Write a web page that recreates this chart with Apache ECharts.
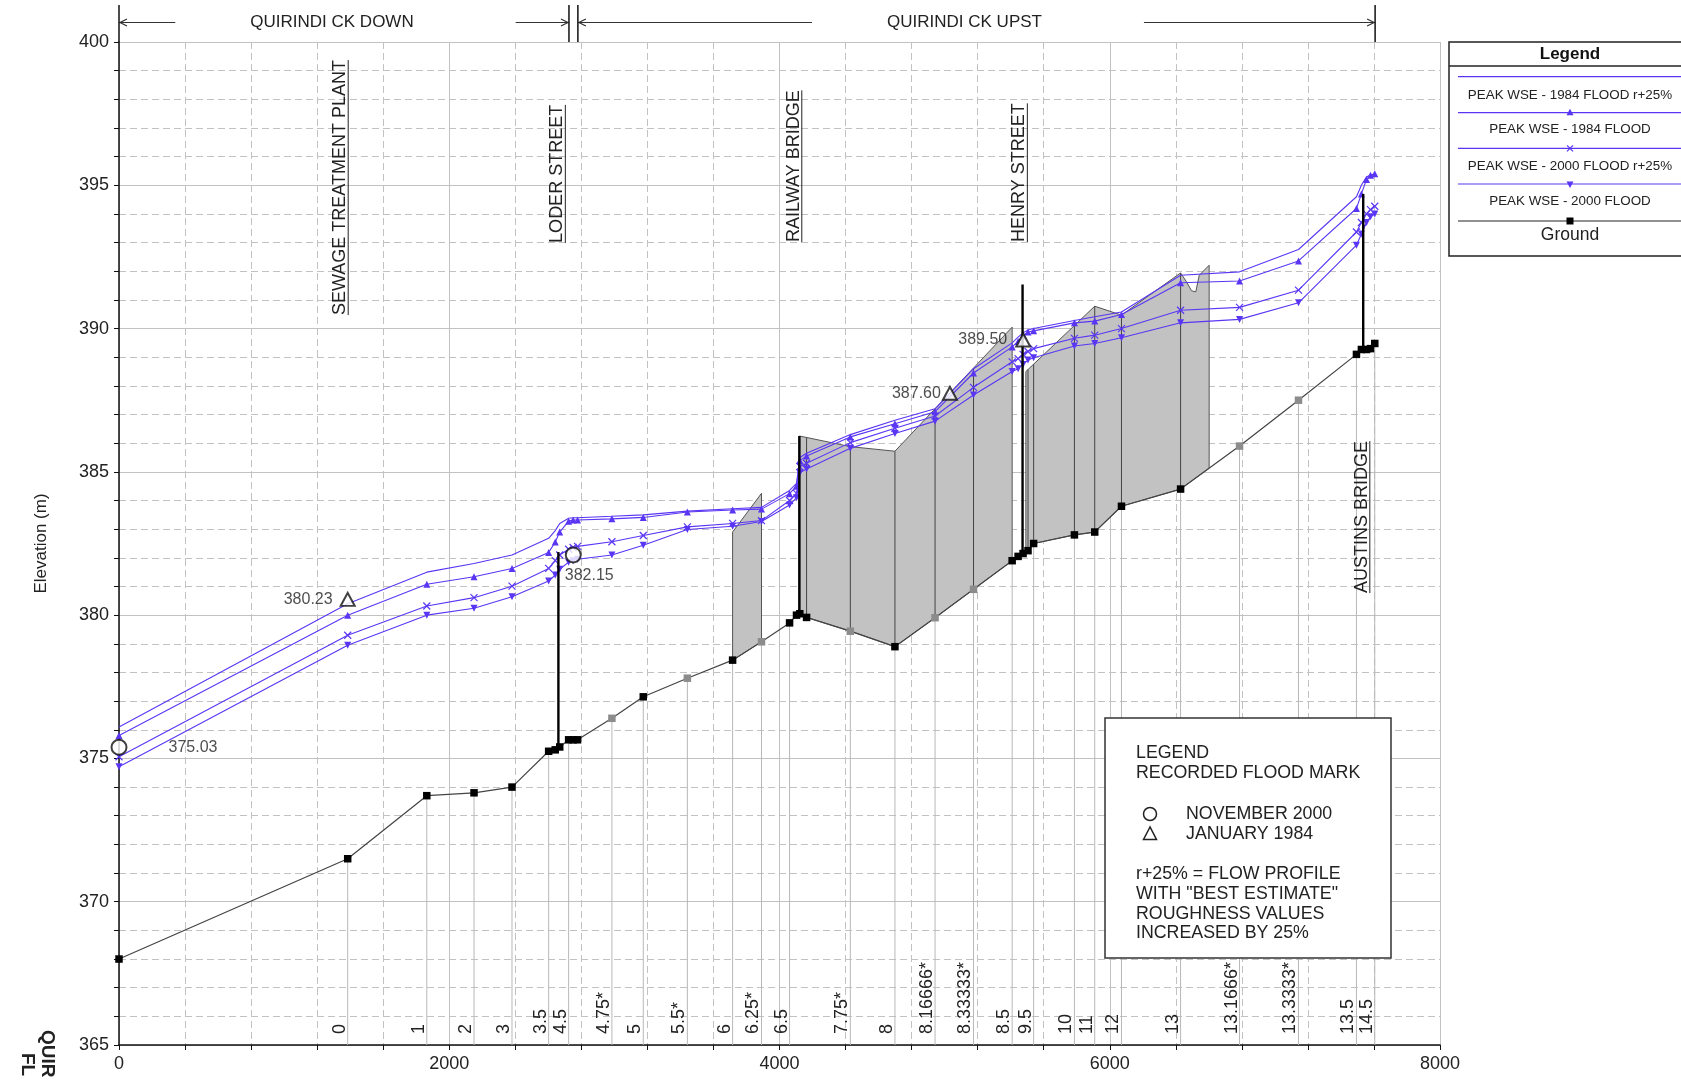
<!DOCTYPE html>
<html>
<head>
<meta charset="utf-8">
<script src="https://cdn.jsdelivr.net/npm/echarts@6/dist/echarts.min.js"></script>
<style>html,body{margin:0;padding:0;background:#fff}#c{width:1681px;height:1083px}</style>
</head>
<body>
<div id="c"></div>
<script>
// ---------------- DATA ----------------
const stationX = [0,1385,1864,2150,2380,2602,2642,2669,2723,2750,2777,2985,3175,3442,3716,3891,4061,4103,4123,4164,4429,4699,4942,5175,5409,5445,5475,5505,5539,5786,5909,6071,6429,6786,7143,7494,7524,7555,7579,7605];
const groundElev = [368.0,371.5,373.7,373.8,374.0,375.25,375.3,375.4,375.65,375.65,375.65,376.4,377.15,377.8,378.43,379.07,379.73,380.0,380.05,379.92,379.44,378.9,379.91,380.9,381.9,382.05,382.15,382.25,382.5,382.8,382.9,383.8,384.4,385.9,387.5,389.1,389.27,389.27,389.3,389.48];
const interpolatedSection = [0,0,0,0,0,0,0,0,0,0,0,1,0,1,0,1,0,0,0,0,1,0,1,1,0,0,0,0,0,0,0,0,0,1,1,0,0,0,0,0];
const wse1984r25 = [376.1,380.4,381.5,381.8,382.1,382.68,382.95,383.2,383.38,383.4,383.4,383.45,383.5,383.63,383.71,383.76,384.35,384.6,385.5,385.65,386.3,386.8,387.2,388.6,389.5,389.7,389.85,389.95,390.0,390.28,390.41,390.58,391.86,391.98,392.76,394.6,395.0,395.3,395.35,395.4];
const wse1984 = [375.8,380.0,381.08,381.34,381.63,382.19,382.55,382.9,383.28,383.32,383.32,383.36,383.41,383.6,383.67,383.7,384.24,384.5,385.4,385.55,386.22,386.68,387.1,388.45,389.36,389.55,389.75,389.88,389.92,390.2,390.26,390.49,391.6,391.66,392.36,394.19,394.7,395.2,395.35,395.4];
const wse2000r25 = [375.06,379.3,380.32,380.61,381.01,381.63,381.9,382.1,382.3,382.36,382.4,382.56,382.78,383.08,383.2,383.3,384.0,384.25,385.18,385.3,386.02,386.52,386.95,387.95,388.84,388.95,389.1,389.2,389.3,389.66,389.77,390.0,390.64,390.74,391.34,393.37,393.7,394.0,394.15,394.27];
const wse2000 = [374.71,378.95,380.0,380.24,380.64,381.19,381.4,381.6,381.85,381.9,381.95,382.1,382.44,382.99,383.1,383.27,383.84,384.1,384.97,385.1,385.82,386.34,386.77,387.68,388.5,388.6,388.75,388.9,388.98,389.39,389.48,389.68,390.2,390.32,390.9,392.91,393.3,393.7,393.9,394.0];

const sectionNames = ['0','1','2','3','3.5','4.5','4.75*','5','5.5*','6','6.25*','6.5','7.75*','8','8.16666*','8.33333*','8.5','9.5','10','11','12','13','13.1666*','13.3333*','13.5','14.5'];
const sectionX = [1385,1864,2150,2380,2602,2723,2985,3175,3442,3716,3891,4061,4429,4699,4942,5175,5409,5539,5786,5909,6071,6429,6786,7143,7494,7605];

const structNames = ['SEWAGE TREATMENT PLANT','LODER STREET','RAILWAY BRIDGE','HENRY STREET','AUSTINS BRIDGE'];
const structX = [1385,2700,4132,5498,7572];
const structLabelElev = [390.47,392.99,393.02,393.02,380.77];

const deckX = [2661,4120,5472,7535];
const deckTop = [382.2,386.25,391.54,394.7];

const block1Top = [[3716,382.9],[3891,384.25]];
const block2Top = [[4120,386.25],[4164,386.2],[4429,385.88],[4699,385.72],[5409,390.05]];
const block3Top = [[5492,388.5],[5909,390.78],[6071,390.47],[6429,391.94],[6465,391.63],[6495,391.32],[6521,391.28],[6542,391.86],[6602,392.21]];

const floodX = [0,1385,2751,5032,5476];
const floodElev = [375.39,380.55,382.10,387.74,389.60];
const floodLabel = ['375.03','380.23','382.15','387.60','389.50'];
const floodKind = ['circle','triangle','circle','triangle','triangle'];

const reachNames = ['QUIRINDI CK DOWN','QUIRINDI CK UPST'];
const reachFrom = [0,2779];
const reachTo = [2725,7607];

const xTicks = [0,2000,4000,6000,8000];
const yTicks = [365,370,375,380,385,390,395,400];

// ---------------- HELPERS ----------------
const FONT = '"Liberation Sans", Arial, sans-serif';
const BLUE = '#5a36f4';
const mctx = document.createElement('canvas').getContext('2d');
function textW(s, font){ mctx.font = font; return mctx.measureText(s).width; }
function interp(xs, ys, x){
  for (let i=0;i<xs.length-1;i++){
    if (x>=xs[i] && x<=xs[i+1]){ const d=xs[i+1]-xs[i]; const t=d?(x-xs[i])/d:0; return ys[i]+t*(ys[i+1]-ys[i]); }
  }
  return x<xs[0]?ys[0]:ys[ys.length-1];
}
const groundAt = x => interp(stationX, groundElev, x);
const blocks = [block1Top, block2Top, block3Top];

function pairs(arr){ return stationX.map((x,i)=>[x,arr[i]]); }

const XMARK = 'path://M0,0L10,10M10,0L0,10';

// ---------------- SERIES ----------------
const stationSeries = {
  type:'custom', z:1, silent:true, clip:false,
  data: sectionX.map(x=>[x,365]),
  renderItem(params, api){
    const i = params.dataIndex, x = sectionX[i];
    const pb = api.coord([x,365]), pg = api.coord([x,groundAt(x)]);
    return {type:'group', children:[
      {type:'line', shape:{x1:pb[0],y1:pb[1],x2:pg[0],y2:pg[1]}, style:{stroke:'#b8b8b8', lineWidth:1}},
      {type:'text', x:pb[0]-8, y:pb[1]-11, rotation:Math.PI/2,
       style:{text:sectionNames[i], font:'18px '+FONT, fill:'#222', align:'left', verticalAlign:'middle'}}
    ]};
  }
};

const blockSeries = {
  type:'custom', z:2, silent:true, clip:false,
  data: blocks.map(b=>[b[0][0], b[0][1]]),
  renderItem(params, api){
    const top = blocks[params.dataIndex];
    const x0 = top[0][0], x1 = top[top.length-1][0];
    const tx = top.map(p=>p[0]), ty = top.map(p=>p[1]);
    const pts = top.map(p=>api.coord(p));
    pts.push(api.coord([x1, groundAt(x1)]));
    for (let i=stationX.length-1;i>=0;i--) if (stationX[i]<x1 && stationX[i]>x0) pts.push(api.coord([stationX[i], groundElev[i]]));
    pts.push(api.coord([x0, groundAt(x0)]));
    const children = [{type:'polygon', shape:{points:pts}, style:{fill:'#c2c2c2', stroke:'#555', lineWidth:1}}];
    for (let i=0;i<stationX.length;i++){
      const sx = stationX[i];
      if (sx>x0 && sx<x1){
        const a = api.coord([sx, groundElev[i]]), b = api.coord([sx, interp(tx,ty,sx)]);
        children.push({type:'line', shape:{x1:a[0],y1:a[1],x2:b[0],y2:b[1]}, style:{stroke:'#444', lineWidth:1}});
      }
    }
    return {type:'group', children};
  }
};

const groundSeries = {
  type:'line', name:'Ground', z:3, silent:true,
  data: stationX.map((x,i)=>({value:[x,groundElev[i]], itemStyle:{color: interpolatedSection[i] ? '#8c8c8c' : '#000'}})),
  symbol:'rect', symbolSize:7.5, showAllSymbol:true,
  lineStyle:{color:'#444', width:1.2}
};

function wseSeries(name, arr, symbol, rotate, extra){
  return Object.assign({
    type:'line', name, z:4, silent:true, data: pairs(arr),
    symbol, symbolSize:7, symbolRotate:rotate||0, showAllSymbol:true,
    lineStyle:{color:BLUE, width:1.1},
    itemStyle:{color:BLUE}
  }, extra||{});
}

const deckSeries = {
  type:'custom', z:5, silent:true, clip:false,
  data: deckX.map((x,i)=>[x,deckTop[i]]),
  renderItem(params, api){
    const i = params.dataIndex;
    const a = api.coord([deckX[i], groundAt(deckX[i])]), b = api.coord([deckX[i], deckTop[i]]);
    return {type:'line', shape:{x1:a[0],y1:a[1],x2:b[0],y2:b[1]}, style:{stroke:'#000', lineWidth:2.4}};
  }
};

const floodLabelStyle = [
  {position:'right', distance:41},
  {position:'left', distance:7},
  {position:'bottom', distance:4, offset:[16,0]},
  {position:'left', distance:1},
  {position:'left', distance:8}
];
const floodSeries = {
  type:'scatter', z:6, silent:true,
  data: floodX.map((x,i)=>({
    value:[x,floodElev[i]],
    symbol: floodKind[i]==='circle' ? 'emptyCircle' : 'emptyTriangle',
    symbolSize: floodKind[i]==='circle' ? 15 : [14,13],
    label: Object.assign({show:true, formatter: floodLabel[i], fontSize:16, color:'#222', fontFamily:FONT}, floodLabelStyle[i])
  })),
  itemStyle:{color:'#111', borderColor:'#111', borderWidth:1.5}
};

const structSeries = {
  type:'custom', z:6, silent:true, clip:false,
  data: structX.map((x,i)=>[x,structLabelElev[i]]),
  renderItem(params, api){
    const i = params.dataIndex;
    const p = api.coord([structX[i], structLabelElev[i]]);
    const font = '18px '+FONT;
    const w = textW(structNames[i], font);
    return {type:'group', children:[
      {type:'text', x:p[0]-7.5, y:p[1], rotation:Math.PI/2,
       style:{text:structNames[i], font, fill:'#222', align:'left', verticalAlign:'middle'}},
      {type:'line', shape:{x1:p[0]+0.5,y1:p[1],x2:p[0]+0.5,y2:p[1]-w}, style:{stroke:'#222', lineWidth:1}}
    ]};
  }
};

const reachSeries = {
  type:'custom', z:6, silent:true, clip:false,
  data: reachFrom.map(x=>[x,400]),
  renderItem(params, api){
    const i = params.dataIndex;
    const xa = api.coord([reachFrom[i],400])[0], xb = api.coord([reachTo[i],400])[0];
    const top = api.coord([0,400])[1];
    const yA = top-19.5, yTop = top-37;
    const font = '17px '+FONT;
    const w = textW(reachNames[i], font);
    const cx = (xa+xb)/2 - 12;
    const tl = cx - w/2, tr = cx + w/2;
    const st = {stroke:'#333', lineWidth:1.2, fill:null};
    return {type:'group', children:[
      {type:'text', x:cx, y:yA, style:{text:reachNames[i], font, fill:'#222', align:'center', verticalAlign:'middle'}},
      {type:'line', shape:{x1:xa,y1:yA,x2:tl-75,y2:yA}, style:st},
      {type:'polyline', shape:{points:[[xa+8,yA-3.5],[xa+1,yA],[xa+8,yA+3.5]]}, style:st},
      {type:'line', shape:{x1:tr+102,y1:yA,x2:xb,y2:yA}, style:st},
      {type:'polyline', shape:{points:[[xb-8,yA-3.5],[xb-1,yA],[xb-8,yA+3.5]]}, style:st},
      {type:'line', shape:{x1:xa,y1:yTop,x2:xa,y2:top}, style:{stroke:'#111', lineWidth:1.5}},
      {type:'line', shape:{x1:xb,y1:yTop,x2:xb,y2:top}, style:{stroke:'#111', lineWidth:1.5}}
    ]};
  }
};

// ---------------- LEGENDS (graphic) ----------------
const legendItems = ['PEAK WSE - 1984 FLOOD r+25%','PEAK WSE - 1984 FLOOD','PEAK WSE - 2000 FLOOD r+25%','PEAK WSE - 2000 FLOOD','Ground'];
const lgLineY = [76.7,112.7,148.3,184,221];
const lgTextY = [95.7,129,166,201,235.5];
const g = [];
g.push({type:'rect', z:100, shape:{x:1449,y:42,width:260,height:214}, style:{fill:'#fff', stroke:'#222', lineWidth:1.5}});
g.push({type:'line', z:101, shape:{x1:1449,y1:66,x2:1700,y2:66}, style:{stroke:'#222', lineWidth:1.5}});
g.push({type:'text', z:101, x:1570, y:54, style:{text:'Legend', font:'bold 17px '+FONT, fill:'#111', align:'center', verticalAlign:'middle'}});
legendItems.forEach((t,i)=>{
  const isG = i===4;
  g.push({type:'line', z:101, shape:{x1:1458,y1:lgLineY[i],x2:1700,y2:lgLineY[i]}, style:{stroke:isG?'#222':BLUE, lineWidth:1.2}});
  g.push({type:'text', z:101, x:1570, y:lgTextY[i], style:{text:t, font:(isG?'17.5px ':'13.4px ')+FONT, fill:'#222', align:'center', verticalAlign:'middle'}});
});
const mx = 1570;
g.push({type:'polygon', z:102, shape:{points:[[mx,lgLineY[1]-4],[mx-3.5,lgLineY[1]+2.5],[mx+3.5,lgLineY[1]+2.5]]}, style:{fill:BLUE}});
g.push({type:'polyline', z:102, shape:{points:[[mx-3,lgLineY[2]-3],[mx+3,lgLineY[2]+3]]}, style:{stroke:BLUE, lineWidth:1.2}});
g.push({type:'polyline', z:102, shape:{points:[[mx+3,lgLineY[2]-3],[mx-3,lgLineY[2]+3]]}, style:{stroke:BLUE, lineWidth:1.2}});
g.push({type:'polygon', z:102, shape:{points:[[mx,lgLineY[3]+4],[mx-3.5,lgLineY[3]-2.5],[mx+3.5,lgLineY[3]-2.5]]}, style:{fill:BLUE}});
g.push({type:'rect', z:102, shape:{x:mx-3.5,y:lgLineY[4]-3.5,width:7,height:7}, style:{fill:'#000'}});

// bottom-right recorded flood mark legend
g.push({type:'rect', z:100, shape:{x:1105,y:718,width:286,height:240}, style:{fill:'#fff', stroke:'#333', lineWidth:1.5}});
const noteLines = [['LEGEND',1136,753],['RECORDED FLOOD MARK',1136,773],['NOVEMBER 2000',1186,814],['JANUARY 1984',1186,834],
  ['r+25% = FLOW PROFILE',1136,874],['WITH "BEST ESTIMATE"',1136,894],['ROUGHNESS VALUES',1136,914],['INCREASED BY 25%',1136,933]];
noteLines.forEach(n=>g.push({type:'text', z:101, x:n[1], y:n[2], style:{text:n[0], font:'17.8px '+FONT, fill:'#222', align:'left', verticalAlign:'middle'}}));
g.push({type:'circle', z:101, shape:{cx:1150,cy:814,r:6.5}, style:{fill:null, stroke:'#222', lineWidth:1.5}});
g.push({type:'polygon', z:101, shape:{points:[[1150,827],[1143.5,839.5],[1156.5,839.5]]}, style:{fill:null, stroke:'#222', lineWidth:1.5}});

// cut-off rotated title at lower left
g.push({type:'text', z:101, x:47, y:1030, rotation:-Math.PI/2, style:{text:'QUIR', font:'bold 19px '+FONT, fill:'#222', align:'left', verticalAlign:'middle'}});
g.push({type:'text', z:101, x:27, y:1053, rotation:-Math.PI/2, style:{text:'FL', font:'bold 19px '+FONT, fill:'#222', align:'left', verticalAlign:'middle'}});

// ---------------- OPTION ----------------
const gridColor = '#c2c2c2';
const option = {
  animation:false,
  backgroundColor:'#fff',
  textStyle:{fontFamily:FONT},
  grid:{left:119, top:42, width:1321, height:1003},
  xAxis:[
    {type:'value', min:0, max:8000, interval:400,
     axisLine:{onZero:false, lineStyle:{color:'#111', width:1.5}},
     axisTick:{show:true, length:5, lineStyle:{color:'#111'}},
     axisLabel:{formatter:v=> xTicks.indexOf(v)>=0 ? String(v) : '', fontSize:18, color:'#222', margin:10, showMinLabel:true, showMaxLabel:true},
     splitLine:{show:true, lineStyle:{color:gridColor, type:[7,4], width:1}}},
    {type:'value', min:0, max:8000, interval:2000, position:'bottom',
     axisLine:{show:false}, axisTick:{show:false}, axisLabel:{show:false},
     splitLine:{show:true, lineStyle:{color:gridColor, width:1}}}
  ],
  yAxis:[
    {type:'value', min:365, max:400, interval:1,
     name:'Elevation (m)', nameLocation:'middle', nameGap:69, nameRotate:90,
     nameTextStyle:{fontSize:17, color:'#222'},
     axisLine:{show:true, onZero:false, lineStyle:{color:'#111', width:1.5}},
     axisTick:{show:true, length:5, lineStyle:{color:'#111'}},
     axisLabel:{formatter:v=> yTicks.indexOf(v)>=0 ? String(v) : '', fontSize:18, color:'#222', margin:10, showMinLabel:true, showMaxLabel:true},
     splitLine:{show:true, lineStyle:{color:gridColor, type:[7,4], width:1}}},
    {type:'value', min:365, max:400, interval:5, position:'left',
     axisLine:{show:false}, axisTick:{show:false}, axisLabel:{show:false},
     splitLine:{show:true, lineStyle:{color:gridColor, width:1}}}
  ],
  series:[
    stationSeries,
    blockSeries,
    groundSeries,
    wseSeries('PEAK WSE - 1984 FLOOD r+25%', wse1984r25, 'none'),
    wseSeries('PEAK WSE - 1984 FLOOD', wse1984, 'triangle'),
    wseSeries('PEAK WSE - 2000 FLOOD r+25%', wse2000r25, XMARK, 0, {itemStyle:{color:BLUE, borderColor:BLUE, borderWidth:1.2}, symbolSize:7}),
    wseSeries('PEAK WSE - 2000 FLOOD', wse2000, 'triangle', 180),
    deckSeries,
    floodSeries,
    structSeries,
    reachSeries
  ],
  graphic: g
};

const chart = echarts.init(document.getElementById('c'), null, {renderer:'canvas', width:1681, height:1083});
chart.setOption(option);
</script>
</body>
</html>
